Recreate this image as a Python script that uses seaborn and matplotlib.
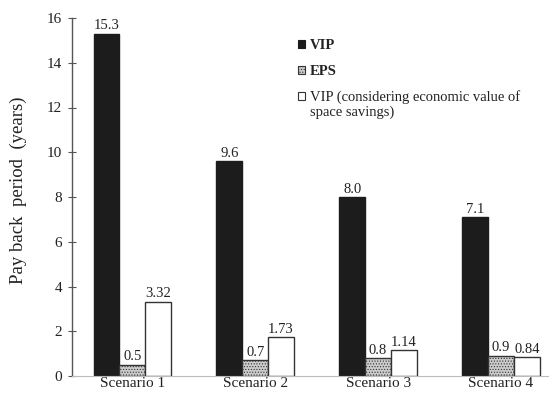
import matplotlib
matplotlib.use("Agg")
import matplotlib.pyplot as plt
import seaborn as sns
import pandas as pd
from matplotlib.patches import Patch, Rectangle
from matplotlib.legend_handler import HandlerPatch

# Payback period data per scenario and insulation option
scenarios = ["Scenario 1", "Scenario 2", "Scenario 3", "Scenario 4"]
series_names = ["VIP", "EPS", "VIP (considering economic value of\nspace savings)"]
vip = [15.3, 9.6, 8.0, 7.1]
eps = [0.5, 0.7, 0.8, 0.9]
vip_space = [3.32, 1.73, 1.14, 0.84]
value_labels = [
    ["15.3", "9.6", "8.0", "7.1"],
    ["0.5", "0.7", "0.8", "0.9"],
    ["3.32", "1.73", "1.14", "0.84"],
]
y_ticks = [0, 2, 4, 6, 8, 10, 12, 14, 16]

rows = []
for name, vals in zip(series_names, [vip, eps, vip_space]):
    for sc, v in zip(scenarios, vals):
        rows.append({"Scenario": sc, "Series": name, "Years": v})
df = pd.DataFrame(rows)

sns.set_style("white")
plt.rcParams["font.family"] = ["Liberation Serif", "DejaVu Serif"]
plt.rcParams["hatch.linewidth"] = 0.5
plt.rcParams["hatch.color"] = "#666666"

TXT = "#222222"
fig = plt.figure(figsize=(5.49, 3.94), dpi=100)
ax = fig.add_axes([72 / 549, 18 / 394, 1 - 72 / 549, 358 / 394])

face = ["#1c1c1c", "#cccccc", "white"]
edge = ["#1c1c1c", "#333333", "#333333"]
hatch = [None, "......", None]

sns.barplot(data=df, x="Scenario", y="Years", hue="Series", hue_order=series_names,
            order=scenarios, width=0.63, ax=ax, legend=False, errorbar=None)

for i, cont in enumerate(ax.containers):
    for bar in cont:
        bar.set_facecolor(face[i])
        bar.set_edgecolor(edge[i])
        bar.set_linewidth(1.0)
        if hatch[i]:
            bar.set_hatch(hatch[i])
    ax.bar_label(cont, labels=value_labels[i], padding=1, fontsize=10.5, color=TXT)

ax.set_xlim(-0.49, 3.39)
ax.set_ylim(0, 16)
ax.set_yticks(y_ticks)
ax.set_yticklabels([str(t) for t in y_ticks], fontsize=11, color=TXT)
ax.set_xlabel("")
ax.set_ylabel("Pay back  period  (years)", fontsize=13.5, color=TXT)
ax.yaxis.set_label_coords(-0.094, 0.52)
ax.tick_params(axis="x", length=0, labelsize=11, labelcolor=TXT, pad=1)
ax.tick_params(axis="y", direction="inout", length=6, width=0.8, color="#555555", pad=4, left=True)

for side in ["top", "right"]:
    ax.spines[side].set_visible(False)
ax.spines["left"].set_color("#555555")
ax.spines["left"].set_linewidth(1.0)
ax.spines["bottom"].set_color("#bbbbbb")
ax.spines["bottom"].set_linewidth(0.8)


class TopAlignedPatch(HandlerPatch):
    """Place the swatch level with the first line of a multi-line label."""
    def __init__(self, lift=0.0, **kw):
        super().__init__(**kw)
        self.lift = lift

    def create_artists(self, legend, orig_handle, xdescent, ydescent,
                       width, height, fontsize, trans):
        p = Rectangle((-xdescent, -ydescent + self.lift * fontsize), width, height)
        self.update_prop(p, orig_handle, legend)
        p.set_transform(trans)
        return [p]


handles = [Patch(facecolor=face[i], edgecolor=edge[i], hatch=hatch[i], linewidth=0.8)
           for i in range(3)]
leg = ax.legend(handles, series_names, loc="upper left", bbox_to_anchor=(0.474, 0.94),
                frameon=False, fontsize=10.5, handlelength=0.45, handleheight=0.45,
                handletextpad=0.35, labelspacing=0.85, borderpad=0, borderaxespad=0,
                handler_map={handles[2]: TopAlignedPatch(lift=0.6)})
for t in leg.get_texts():
    t.set_color(TXT)
    t.set_linespacing(1.15)
leg.get_texts()[0].set_fontweight("bold")
leg.get_texts()[1].set_fontweight("bold")

fig.savefig("out.png", dpi=100)
